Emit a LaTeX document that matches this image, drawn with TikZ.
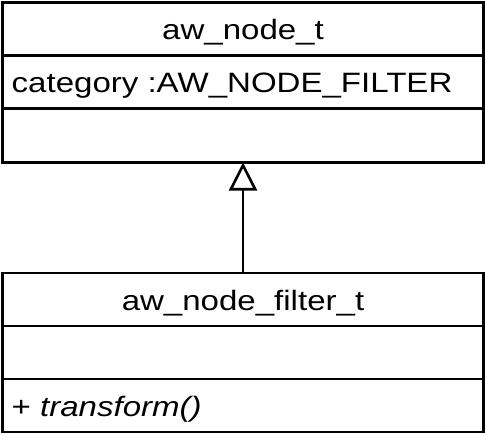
\documentclass[tikz,border=0pt]{standalone}
\usepackage{fontspec}
\setmainfont{Liberation Sans}
\usepackage{tikz}
\usetikzlibrary{positioning,arrows.meta}
\newcommand{\umltext}[1]{\scalebox{1.18}[1]{#1}}

\tikzset{
  part/.style={draw, line width=2.6bp, minimum width=481bp, minimum height=53bp, inner sep=0pt, outer sep=0pt, text height=25bp, text depth=3bp},
  entry/.style={anchor=west, inner sep=0pt, text height=25bp, text depth=3bp},
}

\begin{document}
\begin{tikzpicture}[x=1bp, y=-1bp, font=\fontsize{28bp}{32bp}\selectfont, node distance=0pt]
		\useasboundingbox (0,0) rectangle (485,435);
		% base class
		\node[part] (basename) at (243,29) {\umltext{aw\_node\_t}};
		\node[part, below=of basename] (baseattr) {};
		\node[part, below=of baseattr, minimum height=54bp] (baseops) {};
		\node[entry] (category) at ([xshift=9bp]baseattr.west) {\umltext{category :AW\_NODE\_FILTER}};
		
		% derived class
		\node[part] (filtername) at (243,299.5) {\umltext{aw\_node\_filter\_t}};
		\node[part, below=of filtername] (filterattr) {};
		\node[part, below=of filterattr] (filterops) {};
		\node[entry] (transform) at ([xshift=9bp]filterops.west) {\umltext{+ \textit{transform()}}};
		
		\draw[line width=2.6bp, -{Triangle[open, length=28bp, width=28bp]}] (filtername) -- (baseops);
	\end{tikzpicture}
\end{document}
